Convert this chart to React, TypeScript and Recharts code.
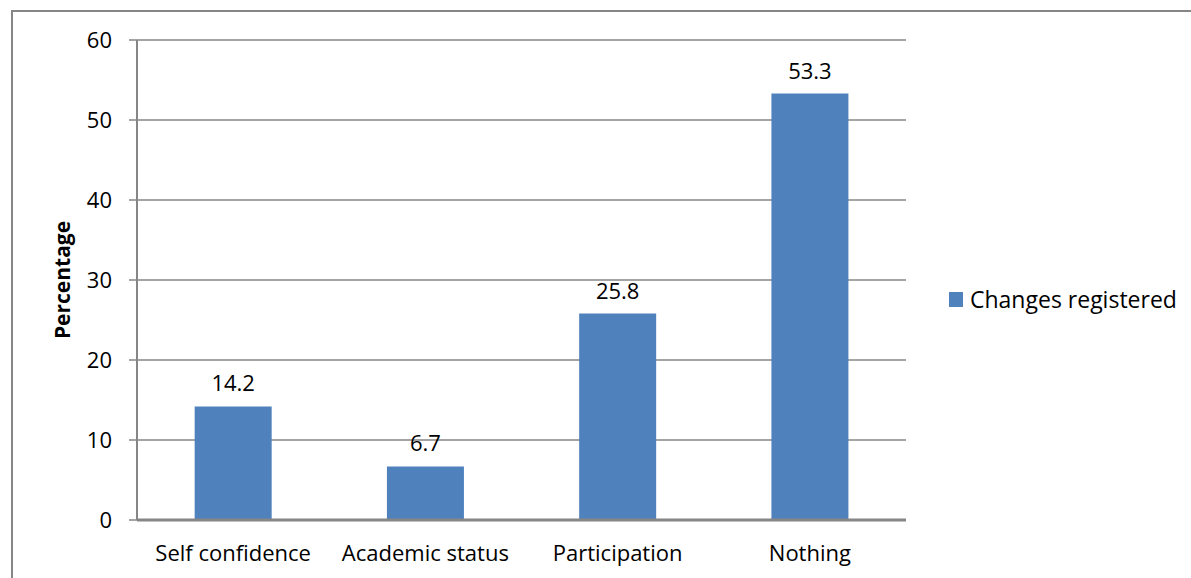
import { BarChart, Bar, XAxis, YAxis, CartesianGrid, LabelList, Label } from 'recharts'

const categories = ['Self confidence', 'Academic status', 'Participation', 'Nothing']
const changesRegistered = [14.2, 6.7, 25.8, 53.3]
const yTicks = [0, 10, 20, 30, 40, 50, 60]

const data = categories.map((name, i) => ({ name, value: changesRegistered[i] }))

const FONT = '"Open Sans", sans-serif'
const GRAY = '#868686'
const BLUE = '#4F81BD'

function LegendBox() {
    return (
        <div
            style={{
                position: 'absolute',
                left: 949,
                top: 283,
                display: 'flex',
                alignItems: 'center',
                fontFamily: FONT,
                fontSize: 23,
                color: '#000',
                whiteSpace: 'nowrap',
            }}
        >
            <span style={{ display: 'inline-block', width: 14, height: 15, background: BLUE, marginRight: 7 }} />
            <span>Changes registered</span>
        </div>
    )
}

export default function App() {
    return (
        <div style={{ position: 'absolute', left: 0, top: 0, width: 1191, height: 578, overflow: 'hidden', background: '#fff' }}>
            <div
                style={{
                    position: 'absolute',
                    left: 11,
                    top: 10,
                    width: 1200,
                    height: 600,
                    border: `2px solid ${GRAY}`,
                    boxSizing: 'border-box',
                }}
            />
            <div style={{ position: 'absolute', left: 0, top: 0 }}>
                <BarChart
                    width={1191}
                    height={578}
                    data={data}
                    margin={{ top: 40, right: 285, bottom: 0, left: 0 }}
                    barCategoryGap='30%'
                >
                    <CartesianGrid vertical={false} stroke={GRAY} strokeWidth={1.5} />
                    <XAxis
                        dataKey='name'
                        height={58}
                        axisLine={{ stroke: GRAY, strokeWidth: 3 }}
                        tickLine={false}
                        tickMargin={19}
                        tick={{ fill: '#000', fontSize: 22, fontFamily: FONT }}
                        interval={0}
                    />
                    <YAxis
                        width={137}
                        domain={[0, 60]}
                        ticks={yTicks}
                        axisLine={{ stroke: GRAY, strokeWidth: 2 }}
                        tickLine={{ stroke: GRAY, strokeWidth: 1.5 }}
                        tickSize={8}
                        tickMargin={17}
                        tick={{ fill: '#000', fontSize: 22, fontFamily: FONT }}
                    >
                        <Label
                            content={() => (
                                <text
                                    x={70}
                                    y={280}
                                    transform='rotate(-90 70 280)'
                                    textAnchor='middle'
                                    fontFamily={FONT}
                                    fontSize={21}
                                    fontWeight='bold'
                                    fill='#000'
                                >
                                    Percentage
                                </text>
                            )}
                        />
                    </YAxis>
                    <Bar dataKey='value' fill={BLUE} isAnimationActive={false}>
                        <LabelList
                            dataKey='value'
                            position='top'
                            offset={15}
                            fill='#000'
                            fontSize={22}
                            fontFamily={FONT}
                        />
                    </Bar>
                </BarChart>
            </div>
            <LegendBox />
        </div>
    )
}
